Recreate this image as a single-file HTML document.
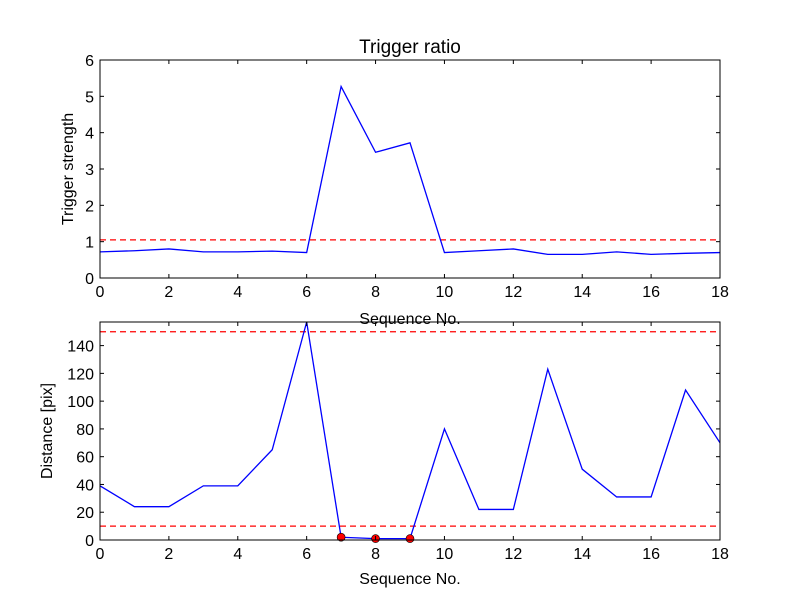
<!DOCTYPE html>
<html><head><meta charset="utf-8"><style>body{margin:0;background:#fff}svg{display:block;font-family:"Liberation Sans","DejaVu Sans",sans-serif}</style></head>
<body>
<svg id="c" width="800" height="600"></svg>
<script>
const seq=[0,1,2,3,4,5,6,7,8,9,10,11,12,13,14,15,16,17,18];
const strength=[0.72,0.75,0.8,0.72,0.72,0.74,0.7,5.27,3.46,3.72,0.7,0.75,0.8,0.65,0.65,0.72,0.65,0.68,0.7];
const strengthThreshold=[1.05];
const distance=[39,24,24,39,39,65,157,2,1,1,80,22,22,123,51,31,31,108,70];
const distanceThresholds=[150,10];
const flagged=[7,8,9];
const xTicks=[0,2,4,6,8,10,12,14,16,18];
const topTicks=[0,1,2,3,4,5,6];
const botTicks=[0,20,40,60,80,100,120,140];
const NS="http://www.w3.org/2000/svg";const svg=document.getElementById('c');
function el(t,a,p){const e=document.createElementNS(NS,t);for(const k in a)e.setAttribute(k,a[k]);(p||svg).appendChild(e);return e;}
function panel(name,top,bot,ymax,yticks,vals,ths,ylabel,xlabelY,marks){
 const L=100,R=720;const X=v=>L+(v-0)/18*(R-L);const Y=v=>bot-v/ymax*(bot-top);
 const g=el('g',{});
 const cp='cp'+name;const d=el('clipPath',{id:cp},g);el('rect',{x:L,y:top,width:R-L,height:bot-top},d);
 ths.forEach(t=>{const l=el('line',{x1:L,x2:R,y1:Y(t),y2:Y(t),stroke:'#f00','stroke-width':1.2,'stroke-dasharray':'6,4'},g);});
 const pl=el('polyline',{points:vals.map((v,i)=>X(seq[i])+','+Y(v)).join(' '),fill:'none',stroke:'#00f','stroke-width':1.3,'clip-path':'url(#'+cp+')'},g);
 
 (marks||[]).forEach(i=>{const c=el('circle',{cx:X(seq[i]),cy:Y(vals[i]),r:4,fill:'#f00',stroke:'#000','stroke-width':0.6},g);});
 const f=el('rect',{x:L,y:top,width:R-L,height:bot-top,fill:'none',stroke:'#000','stroke-width':1},g);
 xTicks.forEach(t=>{const x=X(t);el('line',{x1:x,x2:x,y1:bot,y2:bot-4,stroke:'#000'},g);el('line',{x1:x,x2:x,y1:top,y2:top+4,stroke:'#000'},g);
  const tx=el('text',{x:x,y:bot+19,'font-size':16,'text-anchor':'middle'},g);tx.textContent=t;});
 yticks.forEach(t=>{const y=Y(t);el('line',{x1:L,x2:L+4,y1:y,y2:y,stroke:'#000'},g);el('line',{x1:R,x2:R-4,y1:y,y2:y,stroke:'#000'},g);
  const tx=el('text',{x:L-6,y:y+6,'font-size':16,'text-anchor':'end'},g);tx.textContent=t;});
 const yl=el('text',{x:0,y:0,'font-size':16,'text-anchor':'middle',transform:`translate(${ylabel[1]},${(top+bot)/2}) rotate(-90)`},g);yl.textContent=ylabel[0];
 const xl=el('text',{x:410,y:xlabelY,'font-size':16,'text-anchor':'middle'},g);xl.textContent='Sequence No.';
}
panel('trigger-panel',60,278,6,topTicks,strength,strengthThreshold,['Trigger strength',73],324);
panel('distance-panel',322,540,157,botTicks,distance,distanceThresholds,['Distance [pix]',52],584,flagged);
const t=el('text',{x:410,y:53,'font-size':19,'text-anchor':'middle'});t.textContent='Trigger ratio';


</script>
</body></html>
